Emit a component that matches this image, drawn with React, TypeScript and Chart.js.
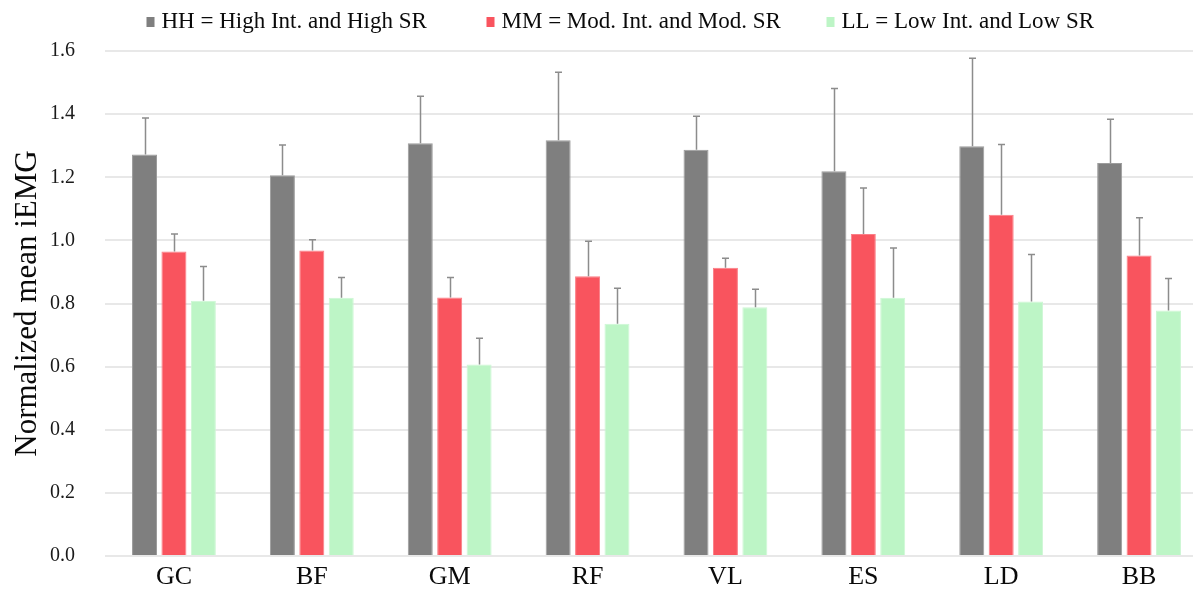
import React, { useEffect, useRef } from "react";
import { Chart, registerables } from "chart.js";

Chart.register(...registerables);

const categories = ["GC", "BF", "GM", "RF", "VL", "ES", "LD", "BB"];
const seriesNames = [
  "HH = High Int. and High SR",
  "MM = Mod. Int. and Mod. SR",
  "LL = Low Int. and Low SR",
];
const hhValues = [1.272, 1.206, 1.308, 1.317, 1.287, 1.219, 1.298, 1.245];
const mmValues = [0.965, 0.968, 0.819, 0.886, 0.913, 1.02, 1.081, 0.952];
const llValues = [0.809, 0.818, 0.607, 0.736, 0.788, 0.818, 0.806, 0.778];
const hhErrors = [0.116, 0.096, 0.149, 0.216, 0.106, 0.262, 0.279, 0.139];
const mmErrors = [0.055, 0.034, 0.063, 0.111, 0.03, 0.146, 0.223, 0.12];
const llErrors = [0.108, 0.064, 0.083, 0.112, 0.057, 0.158, 0.149, 0.101];
const yMin = 0;
const yMax = 1.6;
const yStep = 0.2;

const colors = ["#7f7f7f", "#f9545e", "#bdf5c6"];
const borderColors = ["#9c9c9c", "#fb7e86", "#cdf7d4"];
const errorSets = [hhErrors, mmErrors, llErrors];

const FONT = '"Liberation Serif", "Times New Roman", serif';

const errorBarPlugin = {
  id: "errorBars",
  afterDatasetsDraw(chart: any) {
    const ctx = chart.ctx;
    const yScale = chart.scales.y;
    ctx.save();
    ctx.strokeStyle = "#8c8c8c";
    ctx.lineWidth = 1.5;
    chart.data.datasets.forEach((ds: any, i: number) => {
      const meta = chart.getDatasetMeta(i);
      const errs = errorSets[i];
      meta.data.forEach((el: any, j: number) => {
        const v = ds.data[j];
        const top = yScale.getPixelForValue(v + errs[j]);
        const x = Math.round(el.x) + 0.5;
        ctx.beginPath();
        ctx.moveTo(x, el.y);
        ctx.lineTo(x, top);
        ctx.moveTo(x - 3.5, top);
        ctx.lineTo(x + 3.5, top);
        ctx.stroke();
      });
    });
    ctx.restore();
  },
};

const legendPlugin = {
  id: "excelLegend",
  afterDraw(chart: any) {
    const ctx = chart.ctx;
    const area = chart.chartArea;
    const datasets = chart.data.datasets;
    const slot = 340;
    const startX = (area.left + area.right) / 2 - (slot * datasets.length) / 2;
    ctx.save();
    ctx.font = `23px ${FONT}`;
    ctx.textBaseline = "alphabetic";
    ctx.textAlign = "left";
    datasets.forEach((ds: any, i: number) => {
      const x = startX + i * slot;
      ctx.fillStyle = ds.backgroundColor;
      ctx.fillRect(x, 9, 8, 10);
      ctx.fillStyle = "#0a0a0a";
      ctx.fillText(ds.label, x + 15, 20);
    });
    ctx.restore();
  },
};

export default function App() {
  const canvasRef = useRef<HTMLCanvasElement | null>(null);

  useEffect(() => {
    if (!canvasRef.current) return;
    const datasets = [hhValues, mmValues, llValues].map((vals, i) => ({
      label: seriesNames[i],
      data: vals,
      backgroundColor: colors[i],
      borderColor: borderColors[i],
      borderWidth: 1,
      barPercentage: 0.85,
      categoryPercentage: 0.64,
    }));
    const chart = new Chart(canvasRef.current, {
      type: "bar",
      data: { labels: categories, datasets },
      options: {
        responsive: false,
        animation: false,
        layout: { padding: { top: 43, right: 1, left: 0, bottom: 0 } },
        plugins: {
          legend: { display: false },
          tooltip: { enabled: false },
        },
        scales: {
          x: {
            grid: { display: false, drawTicks: false },
            border: { display: false },
            ticks: {
              padding: 6,
              color: "#0a0a0a",
              font: { family: FONT, size: 26 },
            },
            afterFit: (scale: any) => {
              scale.height = 40;
            },
          },
          y: {
            min: yMin,
            max: yMax,
            grid: { color: "#e8e8e8", lineWidth: 2, drawTicks: false },
            border: { display: false },
            ticks: {
              stepSize: yStep,
              padding: 30,
              color: "#1a1a1a",
              font: { family: FONT, size: 20 },
              callback: (v: any) => Number(v).toFixed(1),
            },
            title: {
              display: true,
              text: "Normalized mean iEMG",
              color: "#0a0a0a",
              font: { family: FONT, size: 31, lineHeight: 1.05 },
              padding: { top: 4, bottom: 0 },
            },
            afterFit: (scale: any) => {
              scale.width = 97;
            },
          },
        },
      },
      plugins: [errorBarPlugin, legendPlugin],
    });
    return () => chart.destroy();
  }, []);

  return (
    <div style={{ width: 1193, height: 590, overflow: "hidden", position: "relative", background: "#fff" }}>
      <canvas ref={canvasRef} width={1201} height={590} style={{ display: "block" }} />
    </div>
  );
}
